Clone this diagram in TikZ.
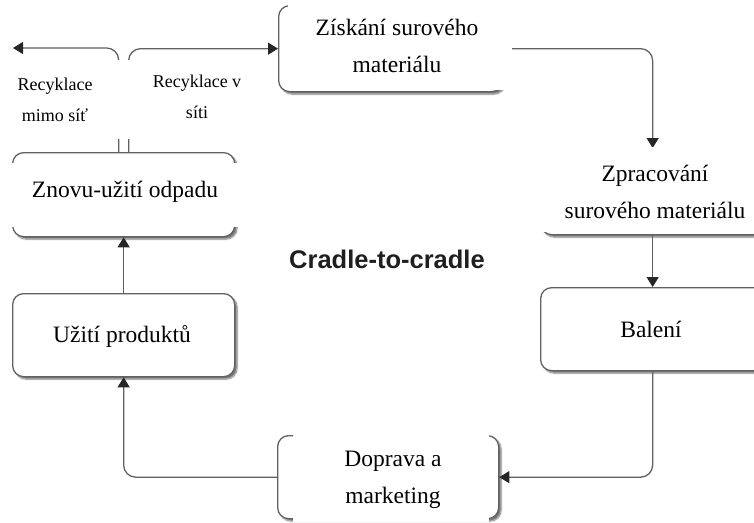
\documentclass[tikz,border=0pt]{standalone}
\usepackage{fontspec}
\setmainfont{Liberation Serif}
\newfontfamily\titlefont{Liberation Sans}
\usetikzlibrary{arrows.meta,shadows.blur}

\begin{document}
\begin{tikzpicture}[x=1pt,y=-1pt,
  stage/.style={draw=black!62, line width=1.3pt, rounded corners=11pt, fill=white,
    blur shadow={shadow xshift=2.5pt, shadow yshift=-2.5pt, shadow blur steps=6,
      shadow blur radius=1.5pt, shadow opacity=55}},
  flow/.style={draw=black!62, line width=1.3pt, rounded corners=12pt,
    -{Triangle[width=12pt,length=10pt,color=black!85]}},
  mask/.style={fill=white},
  stagetext/.style={font=\fontsize{23.5}{37}\selectfont, align=center, inner sep=0pt},
  recytext/.style={font=\fontsize{18}{31}\selectfont, align=center, inner sep=0pt},
  titletext/.style={font=\titlefont\bfseries\fontsize{25.5}{30}\selectfont, inner sep=0pt, text=black!88},
]
\useasboundingbox (0,0) rectangle (754,522);

% stage frames
\node[stage, minimum width=224pt, minimum height=86pt, anchor=north west] (raw)   at (278,5)   {};
\node[stage, minimum width=224pt, minimum height=86pt, anchor=north west] (proc)  at (540,148) {};
\node[stage, minimum width=224pt, minimum height=83pt, anchor=north west] (pack)  at (540,287) {};
\node[stage, minimum width=221pt, minimum height=83pt, anchor=north west] (ship)  at (277,435) {};
\node[stage, minimum width=222pt, minimum height=83pt, anchor=north west] (use)   at (12,293)  {};
\node[stage, minimum width=222pt, minimum height=84pt, anchor=north west] (reuse) at (12,152)  {};
\coordinate (offnet) at (13,48);

% flow of the cycle
\draw[flow] (raw.east) -| (proc.north);
\draw[flow] (proc.south) -- (pack.north);
\draw[flow] (pack.south) |- (ship.east);
\draw[flow] (ship.west) -| (use.south);
\draw[flow] (use.north) -- (reuse.south);
\draw[flow] ([xshift=-5pt]reuse.north) |- (offnet);
\draw[flow] ([xshift=5pt]reuse.north) |- (raw.west);

% white text panels laid over the frames
\fill[mask] (288,0) rectangle (512,90);
\fill[mask] (538,146.5) rectangle (754,232);
\fill[mask] (293,425) rectangle (489,522);
\fill[mask] (5,163) rectangle (245,227);
\fill[mask] (5,60) rectangle (123,139);
\fill[mask] (123,60) rectangle (268,139);

% texts
\node[stagetext] (rawtxt) at (397,46) {Získání surového\\materiálu};
\node[stagetext] (proctxt) at (655,192) {Zpracování\\surového materiálu};
\node[stagetext, anchor=base] (packtxt) at (651,337) {Balení};
\node[stagetext] (shiptxt) at (393,480) {Doprava a\\marketing};
\node[stagetext, anchor=base] (usetxt) at (122,342) {Užití produktů};
\node[stagetext, anchor=base] (reusetxt) at (125,197) {Znovu-užití odpadu};
\node[recytext] (offtxt) at (55,100) {Recyklace\\mimo síť};
\node[recytext] (ontxt) at (197,97) {Recyklace v\\síti};
\node[titletext, anchor=base] (title) at (387,268) {Cradle-to-cradle};
\end{tikzpicture}
\end{document}
